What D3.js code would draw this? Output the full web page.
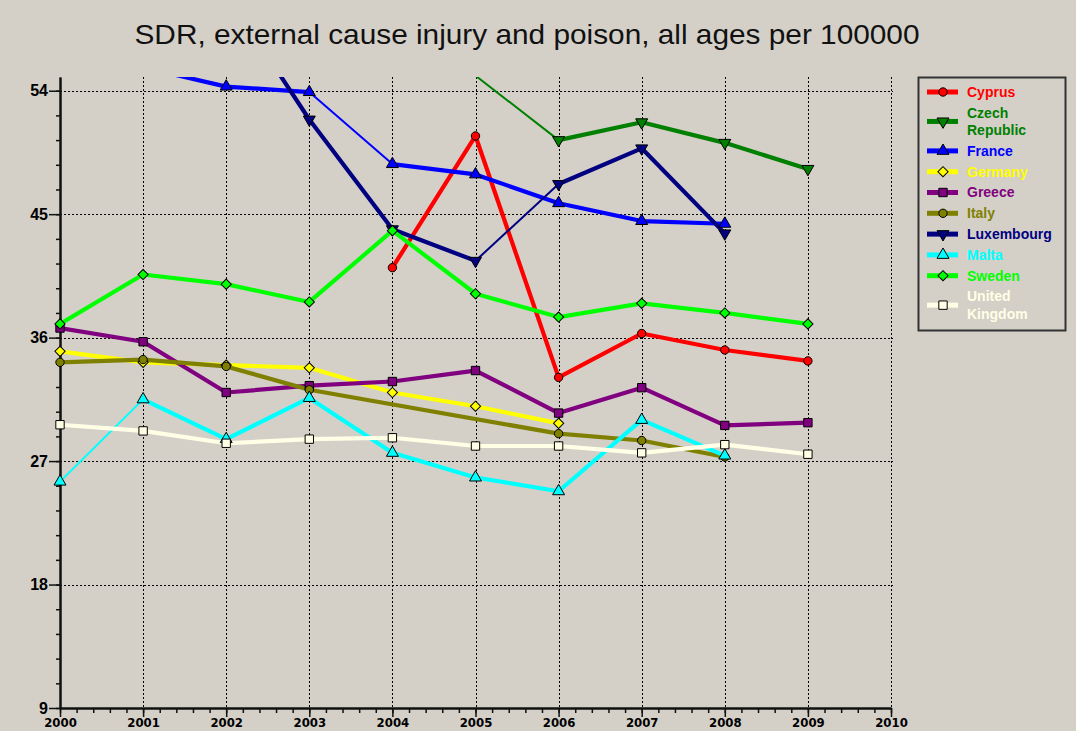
<!DOCTYPE html>
<html>
<head>
<meta charset="utf-8">
<script src="https://cdn.jsdelivr.net/npm/d3@7"></script>
<style>
  body { margin: 0; background: #d4d0c8; }
  svg { display: block; }
</style>
</head>
<body>
<div id="chart"></div>
<script>
// data
const years = [2000, 2001, 2002, 2003, 2004, 2005, 2006, 2007, 2008, 2009];
const countries = ['Cyprus', 'Czech Republic', 'France', 'Germany', 'Greece',
                   'Italy', 'Luxembourg', 'Malta', 'Sweden', 'United Kingdom'];
const cyprus     = [null, null, null, null, 41.1, 50.7, 33.1, 36.3, 35.1, 34.3];
const czech      = [null, null, null, null, null, 55.1, 50.4, 51.7, 50.2, 48.3];
const france     = [null, 55.7, 54.3, 53.9, 48.65, 47.9, 45.8, 44.5, 44.3, null];
const germany    = [35.0, 34.2, 34.0, 33.8, 32.0, 31.0, 29.75, null, null, null];
const greece     = [36.7, 35.7, 32.0, 32.5, 32.8, 33.6, 30.5, 32.35, 29.6, 29.8];
const italy      = [34.2, 34.4, 33.9, 32.2, null, null, 29.0, 28.5, 27.3, null];
const luxembourg = [null, null, 61.1, 51.9, 43.9, 41.6, 47.2, 49.8, 43.6, null];
const malta      = [25.5, 31.5, 28.6, 31.6, 27.6, 25.8, 24.8, 30.0, 27.4, null];
const sweden     = [37.0, 40.6, 39.9, 38.6, 43.8, 39.2, 37.5, 38.5, 37.8, 37.0];
const uk         = [29.65, 29.2, 28.3, 28.6, 28.7, 28.1, 28.1, 27.6, 28.2, 27.5];
const yTicks = [9, 18, 27, 36, 45, 54];
const xTicks = [2000, 2001, 2002, 2003, 2004, 2005, 2006, 2007, 2008, 2009, 2010];

const seriesValues = [cyprus, czech, france, germany, greece, italy, luxembourg, malta, sweden, uk];

// styles
const colors = ['#ff0000', '#008000', '#0000ff', '#ffff00', '#800080',
                '#808000', '#000080', '#00ffff', '#00ff00', '#ffffe6'];
const shapes = ['circle', 'down', 'up', 'diamond', 'square',
                'circle', 'down', 'up', 'diamond', 'square'];
// segments drawn with a thin pen (keyed by start year)
const thinSegs = { 'Czech Republic': [2005], 'France': [2003], 'Luxembourg': [2005], 'Malta': [2000] };

const W = 1076, H = 731;
const pLeft = 60, pRight = 891, pTop = 77, pBottom = 708;

const svg = d3.select('#chart').append('svg')
  .attr('width', W).attr('height', H);

svg.append('rect').attr('width', W).attr('height', H).attr('fill', '#d4d0c8');

const x = d3.scaleLinear().domain([2000, 2010]).range([pLeft, pRight]);
const y = d3.scaleLinear().domain([9, 55]).range([pBottom, pTop]);

// title
svg.append('text')
  .attr('x', 527).attr('y', 44)
  .attr('text-anchor', 'middle')
  .attr('font-family', 'Liberation Sans, Arial, sans-serif')
  .attr('font-size', 28)
  .attr('textLength', 785).attr('lengthAdjust', 'spacingAndGlyphs')
  .attr('fill', '#111')
  .text('SDR, external cause injury and poison, all ages per 100000');

// grid
const grid = svg.append('g').attr('stroke', '#000').attr('stroke-width', 1)
  .attr('stroke-dasharray', '2,2');
grid.selectAll('.vg').data(xTicks.slice(1)).enter().append('line')
  .attr('x1', d => Math.round(x(d)) + 0.5).attr('x2', d => Math.round(x(d)) + 0.5)
  .attr('y1', pTop).attr('y2', pBottom);
grid.selectAll('.hg').data(yTicks.slice(1)).enter().append('line')
  .attr('y1', d => Math.round(y(d)) + 0.5).attr('y2', d => Math.round(y(d)) + 0.5)
  .attr('x1', pLeft).attr('x2', pRight + 2);

// axes
const minorX = d3.range(2000, 2010.001, 0.2);
const minorY = d3.range(9, 55.001, 1.8);

const xMinor = svg.append('g').attr('transform', `translate(0,${pBottom})`)
  .call(d3.axisBottom(x).tickValues(minorX).tickSize(5).tickFormat('').tickSizeOuter(0));
const xAxisG = svg.append('g').attr('transform', `translate(0,${pBottom})`)
  .call(d3.axisBottom(x).tickValues(xTicks).tickSize(9).tickPadding(5)
    .tickFormat(d3.format('d')).tickSizeOuter(0));
const yMinor = svg.append('g').attr('transform', `translate(${pLeft},0)`)
  .call(d3.axisLeft(y).tickValues(minorY).tickSize(4).tickFormat('').tickSizeOuter(0));
const yAxisG = svg.append('g').attr('transform', `translate(${pLeft},0)`)
  .call(d3.axisLeft(y).tickValues(yTicks).tickSize(11).tickPadding(1).tickSizeOuter(0));

[xMinor, xAxisG, yMinor, yAxisG].forEach(g => {
  g.select('.domain').attr('stroke', '#111').attr('stroke-width', 2);
  g.selectAll('.tick line').attr('stroke', '#111').attr('stroke-width', 1.5);
});
xAxisG.selectAll('.tick text')
  .attr('font-family', 'Liberation Sans Narrow, DejaVu Sans Condensed, sans-serif')
  .attr('font-weight', 'bold').attr('font-size', 13).attr('fill', '#000')
  .attr('dy', null).attr('y', 19);
yAxisG.selectAll('.tick text')
  .attr('font-family', 'Liberation Sans, Arial, sans-serif')
  .attr('font-weight', 'bold').attr('font-size', 16).attr('fill', '#000');

// clipping
svg.append('clipPath').attr('id', 'plot')
  .append('rect').attr('x', pLeft).attr('y', pTop)
  .attr('width', pRight - pLeft).attr('height', pBottom - pTop);

const series = countries.map((name, i) => ({
  name, color: colors[i], shape: shapes[i],
  points: years.map((yr, j) => ({ year: yr, value: seriesValues[i][j] }))
    .filter(p => p.value !== null)
}));

const line = d3.line().x(d => x(d.year)).y(d => y(d.value));
const lineLayer = svg.append('g').attr('clip-path', 'url(#plot)');

series.forEach(s => {
  const thin = thinSegs[s.name] || [];
  // split into runs of same pen width
  let run = [s.points[0]], runThin = null;
  const flush = () => {
    if (run.length > 1) {
      lineLayer.append('path').attr('d', line(run))
        .attr('fill', 'none').attr('stroke', s.color)
        .attr('stroke-width', runThin ? 2 : 4.2)
        .attr('stroke-linejoin', 'round');
    }
  };
  for (let k = 1; k < s.points.length; k++) {
    const t = thin.includes(s.points[k - 1].year);
    if (runThin !== null && t !== runThin) {
      flush();
      run = [s.points[k - 1]];
    }
    runThin = t;
    run.push(s.points[k]);
  }
  flush();
});

function symbolPath(shape) {
  if (shape === 'circle') return d3.symbol(d3.symbolCircle, 55)();
  if (shape === 'square') return d3.symbol(d3.symbolSquare, 70)();
  if (shape === 'diamond') return d3.symbol(d3.symbolSquare, 52)();
  return d3.symbol(d3.symbolTriangle, 62)();
}
function symbolRotate(shape) {
  if (shape === 'diamond') return 45;
  if (shape === 'down') return 180;
  return 0;
}

const markerLayer = svg.append('g');
series.forEach(s => {
  markerLayer.selectAll(null)
    .data(s.points.filter(p => p.value <= 55 && p.value >= 9))
    .enter().append('path')
    .attr('d', symbolPath(s.shape))
    .attr('transform', d => `translate(${x(d.year)},${y(d.value)}) rotate(${symbolRotate(s.shape)})`)
    .attr('fill', s.color).attr('stroke', '#000').attr('stroke-width', 1);
});

// legend
const legend = svg.append('g');
legend.append('rect')
  .attr('x', 918.5).attr('y', 77.5).attr('width', 147).attr('height', 253)
  .attr('fill', 'none').attr('stroke', '#333').attr('stroke-width', 2);

let cy = 92;
series.forEach((s, i) => {
  const parts = s.name.split(' ');
  const rowMid = cy + (parts.length - 1) * 17.3 / 2;
  legend.append('line')
    .attr('x1', 927).attr('x2', 958).attr('y1', rowMid).attr('y2', rowMid)
    .attr('stroke', s.color).attr('stroke-width', 5);
  legend.append('path')
    .attr('d', symbolPath(s.shape))
    .attr('transform', `translate(943,${rowMid}) rotate(${symbolRotate(s.shape)})`)
    .attr('fill', s.color).attr('stroke', '#000').attr('stroke-width', 1);
  parts.forEach((p, k) => {
    legend.append('text')
      .attr('x', 967).attr('y', cy + k * 17.3)
      .attr('dy', '0.35em')
      .attr('font-family', 'Liberation Sans, Arial, sans-serif')
      .attr('font-weight', 'bold').attr('font-size', 14)
      .attr('fill', s.color)
      .text(p);
  });
  cy += (parts.length - 1) * 17.3 + 20.8;
});
</script>
</body>
</html>
